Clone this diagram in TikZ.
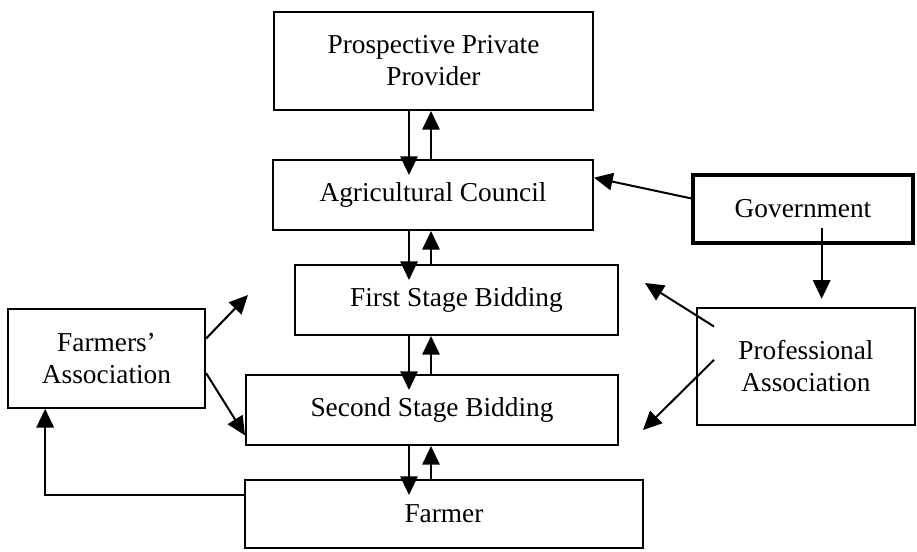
\documentclass[tikz,border=0pt]{standalone}
\usepackage{fontspec}
\setmainfont{Liberation Serif}
\usetikzlibrary{arrows.meta}
\begin{document}
\begin{tikzpicture}[x=0.75pt,y=-0.75pt,
        box/.style={draw,line width=1.5pt,align=center,inner sep=0pt,font=\fontsize{20.5}{24}\selectfont},
        arr/.style={line width=1.5pt,-{Triangle[length=14pt,width=13pt]}},
        into/.style={shorten >=-12pt}]
            \useasboundingbox (0,0) rectangle (917,551);
            \node[box,minimum width=239pt,minimum height=73.5pt] (ppp) at (433.5,61) {Prospective Private\\Provider};
            \node[box,minimum width=240pt,minimum height=52.5pt] (ac) at (433,195) {Agricultural Council};
            \node[box,minimum width=242pt,minimum height=52.5pt] (fsb) at (456.5,300) {First Stage Bidding};
            \node[box,minimum width=279pt,minimum height=52.5pt] (ssb) at (432,410) {Second Stage Bidding};
            \node[box,minimum width=298.5pt,minimum height=51pt] (farmer) at (444,514) {Farmer};
            \node[box,line width=3.2pt,minimum width=165pt,minimum height=51pt] (gov) at (803,209) {Government};
            \node[box,minimum width=163.5pt,minimum height=88pt] (pa) at (806,366.5) {Professional\\Association};
            \node[box,minimum width=148pt,minimum height=74pt] (fa) at (106.5,358.5) {Farmers'\\Association};
            \coordinate (dn) at (409,0);
            \coordinate (up) at (431,0);
            \coordinate (pafsb) at (645,283);
            \coordinate (passb) at (643,430);
            \coordinate (fafsb) at (248,295);
            \draw[arr,into] (ppp.south -| dn) -- (ac.north -| dn);
            \draw[arr] (ac.north -| up) -- (ppp.south -| up);
            \draw[arr,into] (ac.south -| dn) -- (fsb.north -| dn);
            \draw[arr] (fsb.north -| up) -- (ac.south -| up);
            \draw[arr,into] (fsb.south -| dn) -- (ssb.north -| dn);
            \draw[arr] (ssb.north -| up) -- (fsb.south -| up);
            \draw[arr,into] (ssb.south -| dn) -- (farmer.north -| dn);
            \draw[arr] (farmer.north -| up) -- (ssb.south -| up);
            \draw[arr] ([yshift=8pt]gov.west) -- ([yshift=13pt]ac.east);
            \draw[arr,shorten >=6pt] ([xshift=14pt,yshift=13pt]gov.south) -- ([xshift=14pt]gov.south |- pa.north);
            \draw[arr] ([xshift=13.5pt,yshift=30pt]pa.west) -- (pafsb);
            \draw[arr] ([xshift=13.5pt,yshift=5pt]pa.west) -- (passb);
            \draw[arr] ([yshift=15pt]fa.east) -- (fafsb);
            \draw[arr] ([yshift=-11pt]fa.east) -- ([yshift=-19pt]ssb.west);
            \draw[arr] ([yshift=14pt]farmer.west) -| ([xshift=-46pt]fa.south);
        \end{tikzpicture}
\end{document}
